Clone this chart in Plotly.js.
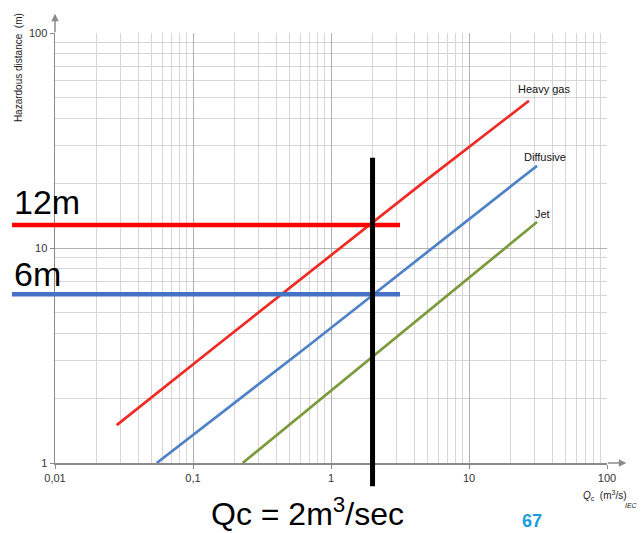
<!DOCTYPE html>
<html><head><meta charset="utf-8">
<script src="https://cdn.plot.ly/plotly-3.0.1.min.js"></script>
<style>body{margin:0;background:#fff}#c{width:641px;height:533px}</style>
</head><body><div id="c"></div>
<script>
// Data
const heavyQ = [0.028, 0.151, 5.14, 27.2];
const heavyH = [1.5, 3.55, 21.2, 48.4];
const diffQ = [0.0546, 0.70, 24.5, 31.1];
const diffH = [1.0, 3.55, 21.4, 24.1];
const jetQ = [0.229, 2.55, 31.1];
const jetH = [1.0, 3.55, 13.2];
const seriesNames = ['Heavy gas', 'Diffusive', 'Jet'];
const xTickVals = [0.01, 0.1, 1, 10, 100];
const xTickText = ['0,01', '0,1', '1', '10', '100'];
const yTickVals = [1, 10, 100];
const yTickText = ['1', '10', '100'];
const minorX = [0.02,0.03,0.04,0.05,0.06,0.07,0.08,0.09,0.2,0.3,0.4,0.5,0.6,0.7,0.8,0.9,
                2,3,4,5,6,7,8,9,20,30,40,50,60,70,80,90];
const minorY = [2,3,4,5,6,7,8,9,20,30,40,50,60,70,80,90];
const markQ = 2;            // Qc = 2 m3/s
const markHeavy = 12.8;     // 12m level
const markDiff = 6.1;       // 6m level

const font = 'Liberation Sans, Arial, sans-serif';
const traces = [
  {x: heavyQ, y: heavyH, name: seriesNames[0], mode: 'lines', line: {color: '#EE2B24', width: 2.7}},
  {x: diffQ, y: diffH, name: seriesNames[1], mode: 'lines', line: {color: '#4F81C7', width: 2.7}},
  {x: jetQ, y: jetH, name: seriesNames[2], mode: 'lines', line: {color: '#7A9A3C', width: 2.7}}
];
const layout = {
  width: 641, height: 533,
  margin: {l: 55, r: 34, t: 33, b: 70},
  paper_bgcolor: '#fff', plot_bgcolor: '#fff',
  showlegend: false,
  font: {family: font, color: '#222', size: 11},
  xaxis: {type: 'log', range: [-2, 2], tickmode: 'array', tickvals: xTickVals, ticktext: xTickText,
    showline: true, linecolor: '#8a8a8a', linewidth: 1.5, mirror: false,
    gridcolor: '#b0b0b0', gridwidth: 1, ticks: 'outside', ticklen: 4, tickcolor: '#8a8a8a',
    minor: {tickmode: 'array', tickvals: minorX, showgrid: true, gridcolor: '#d6d6d6', gridwidth: 1, ticks: ''},
    tickfont: {size: 11, color: '#333'}, zeroline: false},
  yaxis: {type: 'log', range: [0, 2], tickmode: 'array', tickvals: yTickVals, ticktext: yTickText,
    showline: true, linecolor: '#8a8a8a', linewidth: 1.5,
    gridcolor: '#b0b0b0', gridwidth: 1, ticks: 'outside', ticklen: 4, tickcolor: '#8a8a8a',
    minor: {tickmode: 'array', tickvals: minorY, showgrid: true, gridcolor: '#d6d6d6', gridwidth: 1, ticks: ''},
    tickfont: {size: 11, color: '#333'}, zeroline: false},
  shapes: [
    {type: 'line', xref: 'paper', yref: 'y', x0: -0.078, x1: 0.625, y0: markHeavy, y1: markHeavy,
      line: {color: '#FF0000', width: 4.5}},
    {type: 'line', xref: 'paper', yref: 'y', x0: -0.078, x1: 0.625, y0: markDiff, y1: markDiff,
      line: {color: '#4472C4', width: 4.5}},
    {type: 'line', xref: 'x', yref: 'paper', x0: markQ, x1: markQ, y0: -0.054, y1: 0.71,
      line: {color: '#000', width: 5}}
  ],
  annotations: [
    {xref: 'paper', yref: 'paper', x: 0, y: 1.045, ax: 0, ay: 20, showarrow: true, arrowhead: 2,
      arrowsize: 1, arrowwidth: 1.5, arrowcolor: '#8a8a8a', text: ''},
    {xref: 'paper', yref: 'paper', x: 1.035, y: 0, ax: -20, ay: 0, showarrow: true, arrowhead: 2,
      arrowsize: 1, arrowwidth: 1.5, arrowcolor: '#8a8a8a', text: ''},
    {xref: 'paper', yref: 'paper', x: -0.065, y: 1.05, xanchor: 'center', yanchor: 'top', textangle: -90,
      showarrow: false, text: 'Hazardous distance  (m)', font: {size: 10, color: '#222'}},
    {xref: 'paper', yref: 'paper', x: 1.04, y: -0.055, xanchor: 'right', yanchor: 'top', showarrow: false,
      text: '<i>Q</i><sub>c</sub>  (m<sup>3</sup>/s)', font: {size: 10, color: '#222'}},
    {xref: 'paper', yref: 'paper', x: 1.06, y: -0.085, xanchor: 'right', yanchor: 'top', showarrow: false,
      text: '<i>IEC</i>', font: {size: 7, color: '#222'}},
    {xref: 'paper', yref: 'paper', x: 0.886, y: 0.869, xanchor: 'center', yanchor: 'middle', showarrow: false,
      text: seriesNames[0], font: {size: 11, color: '#111'}},
    {xref: 'paper', yref: 'paper', x: 0.888, y: 0.711, xanchor: 'center', yanchor: 'middle', showarrow: false,
      text: seriesNames[1], font: {size: 11, color: '#111'}},
    {xref: 'paper', yref: 'paper', x: 0.884, y: 0.58, xanchor: 'center', yanchor: 'middle', showarrow: false,
      text: seriesNames[2], font: {size: 11, color: '#111'}},
    {xref: 'paper', yref: 'paper', x: -0.078, y: 0.558, xanchor: 'left', yanchor: 'bottom', showarrow: false,
      text: '12m', font: {size: 34, color: '#000'}},
    {xref: 'paper', yref: 'paper', x: -0.078, y: 0.39, xanchor: 'left', yanchor: 'bottom', showarrow: false,
      text: '6m', font: {size: 34, color: '#000'}},
    {xref: 'paper', yref: 'paper', x: 0.457, y: -0.115, xanchor: 'center', yanchor: 'middle', showarrow: false,
      text: 'Qc = 2m<sup>3</sup>/sec', font: {size: 32, color: '#000'}},
    {xref: 'paper', yref: 'paper', x: 0.864, y: -0.136, xanchor: 'center', yanchor: 'middle', showarrow: false,
      text: '<b>67</b>', font: {size: 18, color: '#1A9CE0'}}
  ]
};
Plotly.newPlot('c', traces, layout, {displayModeBar: false, staticPlot: true});
</script></body></html>
